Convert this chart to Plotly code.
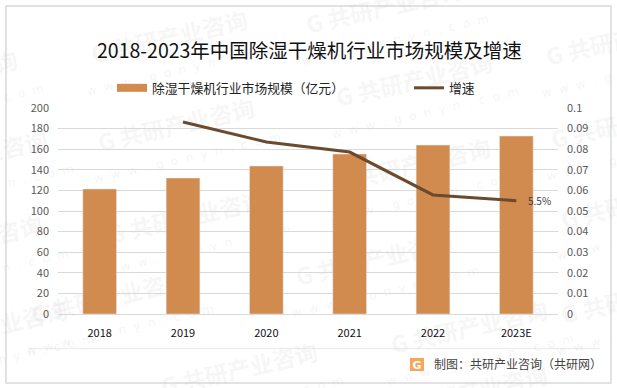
import plotly.graph_objects as go

categories = ["2018", "2019", "2020", "2021", "2022", "2023E"]
market_size = [121.4, 132, 143.7, 155.3, 164, 172.8]
growth = [None, 0.0932, 0.0835, 0.0786, 0.0578, 0.055]
left_ticks = [0, 20, 40, 60, 80, 100, 120, 140, 160, 180, 200]
right_ticks = [0, 0.01, 0.02, 0.03, 0.04, 0.05, 0.06, 0.07, 0.08, 0.09, 0.1]
title = "2018-2023年中国除湿干燥机行业市场规模及增速"
bar_name = "除湿干燥机行业市场规模（亿元）"
line_name = "增速"
source = "制图：共研产业咨询（共研网）"
watermark_spots = [(385, 10), (170, 40), (625, 42), (-60, 80), (415, 83), (177, 128), (413, 168),
                   (630, 125), (-30, 160), (187, 220), (640, 205), (-35, 245), (375, 262),
                   (110, 300), (470, 330), (-10, 330), (240, 372), (640, 300), (470, 395)]

W, H = 617, 388
FONT = "Noto Sans CJK SC"
L, R, T, B = 58, 558, 108, 314
def fx(x): return (x - L) / (R - L)
def fy(y): return (B - y) / (B - T)

fig = go.Figure()
fig.add_bar(x=categories, y=market_size, marker_color="#D18B4E", width=0.405, yaxis="y", showlegend=False)
fig.add_scatter(x=[None], y=[None], name=bar_name, mode="lines", line=dict(color="#D18B4E", width=8), legend="legend")
fig.add_scatter(x=categories, y=growth, name=line_name, mode="lines", yaxis="y2", legend="legend2",
                line=dict(color="#6B4A2F", width=3))

shapes = [
    dict(type="rect", xref="paper", yref="paper", x0=fx(6), x1=fx(611), y0=fy(383), y1=fy(6),
         line=dict(color="#D9D9D9", width=1.5), layer="below"),
    dict(type="line", xref="paper", yref="paper", x0=fx(28), x1=fx(600), y0=fy(348.5), y1=fy(348.5),
         line=dict(color="#EDEDED", width=1.5), layer="below"),
    dict(type="rect", xref="paper", yref="paper", x0=fx(410), x1=fx(424), y0=fy(371), y1=fy(358),
         fillcolor="#F6A55B", line=dict(width=0), layer="below",
         label=dict(text="<b>G</b>", font=dict(family="DejaVu Sans", size=11, color="#FFFFFF"),
                    textposition="middle center")),
]
for x, y in watermark_spots:
    shapes.append(dict(type="rect", xref="paper", yref="paper", x0=fx(x - 5), x1=fx(x + 5), y0=fy(y + 5), y1=fy(y - 5),
                       line=dict(width=0), layer="below",
                       label=dict(text="<b>G 共研产业咨询</b>", textangle=-13, textposition="middle center",
                                  font=dict(family=FONT, size=23, color="rgba(200,200,200,0.17)"))))
    shapes.append(dict(type="rect", xref="paper", yref="paper", x0=fx(x + 5), x1=fx(x + 15), y0=fy(y + 34), y1=fy(y + 24),
                       line=dict(width=0), layer="below",
                       label=dict(text="w  w  w  .  g  o  n  y  n  .  c  o  m", textangle=-13, textposition="middle center",
                                  font=dict(family="DejaVu Sans", size=12, color="rgba(200,200,200,0.2)"))))

ann = [
    dict(xref="paper", yref="paper", x=fx(309), y=fy(50), text=title, showarrow=False, yanchor="middle",
         font=dict(family=FONT, size=19.5, color="#111111")),
    dict(xref="x", yref="y2", x="2023E", y=growth[-1], text="5.5%", showarrow=False, xanchor="left", xshift=10,
         font=dict(family=FONT, size=10, color="#404040")),
    dict(xref="paper", yref="paper", x=fx(432), y=fy(363), text=source, showarrow=False, xanchor="left", yanchor="middle",
         font=dict(family=FONT, size=12, color="#444444")),
]

leg = dict(orientation="h", yanchor="middle", xanchor="left", y=fy(88), itemwidth=30,
           bgcolor="rgba(0,0,0,0)", font=dict(family=FONT, size=12.8, color="#222222"))

fig.update_layout(
    width=W, height=H, autosize=False,
    margin=dict(l=L, r=W - R, t=T, b=H - B),
    paper_bgcolor="white", plot_bgcolor="rgba(0,0,0,0)",
    font=dict(family=FONT, size=11, color="#595959"),
    bargap=0.6,
    legend=dict(leg, x=fx(112)),
    legend2=dict(leg, x=fx(409)),
    xaxis=dict(type="category", categoryorder="array", categoryarray=categories, showline=True, linecolor="#D9D9D9",
               ticks="", tickfont=dict(family=FONT, size=11, color="#111111"), ticklabelstandoff=9),
    yaxis=dict(range=[0, 200], tickvals=left_ticks, gridcolor="#D9D9D9", gridwidth=1, zeroline=False,
               ticks="", ticklabelstandoff=8, tickfont=dict(size=11, color="#595959")),
    yaxis2=dict(range=[0, 0.1], tickvals=right_ticks, ticktext=[str(t) for t in right_ticks], overlaying="y",
                side="right", showgrid=False, zeroline=False, ticks="", ticklabelstandoff=8,
                tickfont=dict(size=11, color="#595959")),
    annotations=ann, shapes=shapes,
)
fig.write_html("out.html", post_script="document.body.style.margin='0';", config=dict(displayModeBar=False))
